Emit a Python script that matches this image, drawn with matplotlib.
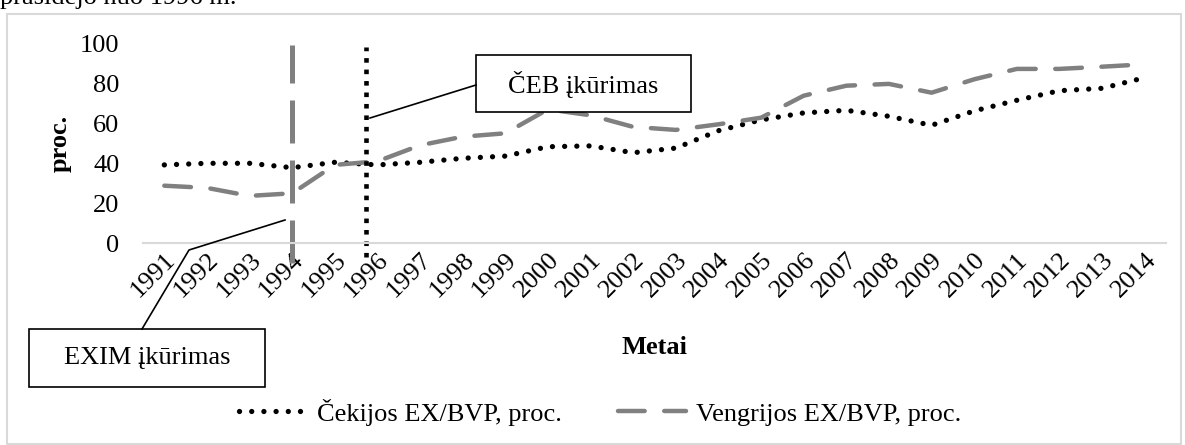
import numpy as np
import matplotlib.pyplot as plt
from matplotlib.patches import Rectangle

plt.rcParams['font.family'] = ['Liberation Serif', 'DejaVu Serif']

years = [str(y) for y in range(1991, 2015)]
czech = [39.2, 40.0, 40.0, 37.8, 40.5, 39.2, 40.5, 42.5, 43.6, 48.3, 48.7, 45.3,
         47.6, 56.3, 61.7, 65.2, 66.5, 63.5, 59.0, 66.2, 71.5, 76.3, 77.5, 82.8]
hungary = [28.8, 27.7, 23.7, 25.0, 39.2, 41.0, 49.0, 53.3, 55.0, 67.0, 64.0, 58.2,
           56.7, 59.5, 62.8, 73.8, 78.8, 79.7, 75.3, 82.0, 87.2, 87.2, 88.3, 89.5]
yticks = [0, 20, 40, 60, 80, 100]
lbl_czech = 'Čekijos EX/BVP, proc.'
lbl_hungary = 'Vengrijos EX/BVP, proc.'
note_ceb = 'ČEB įkūrimas'
note_exim = 'EXIM įkūrimas'
top_text = 'prasidėjo nuo 1996 m.'

W, H = 1185, 445
fs = 19
fig = plt.figure(figsize=(W / 100, H / 100), dpi=100)
ax = fig.add_axes([143 / W, 1 - 243.3 / H, (1166 - 143) / W, 200 / H])

x = np.arange(len(years))
ax.plot(x, czech, color='black', lw=3.8, ls=(0, (0.01, 2.3)),
        dash_capstyle='round', label=lbl_czech)
ax.plot(x, hungary, color='#808080', lw=3.2, ls=(0, (6.0, 4.4)),
        dash_capstyle='round', label=lbl_hungary)

# event markers
ax.plot([3, 3], [-10, 99], color='#808080', lw=3.6, ls=(0, (8.6, 3.4)),
        clip_on=False)
ax.plot([4.72, 4.72], [-7, 98], color='black', lw=3.3, ls=(0, (1, 1.5)),
        clip_on=False)

ax.set_xlim(-0.5, len(years) - 0.5)
ax.set_ylim(0, 100)
ax.set_yticks(yticks)
ax.set_xticks(x)
ax.set_xticklabels(years, rotation=45, ha='right', va='top',
                   rotation_mode='anchor', fontsize=fs)
ax.tick_params(axis='x', length=0, pad=4)
ax.tick_params(axis='y', length=0, pad=17, labelsize=fs)
for s in ['top', 'right', 'left']:
    ax.spines[s].set_visible(False)
ax.spines['bottom'].set_color('#d9d9d9')
ax.spines['bottom'].set_linewidth(1.5)
ax.set_ylabel('proc.', fontsize=fs, fontweight='bold', labelpad=6)

# overlay in pixel coordinates
ov = fig.add_axes([0, 0, 1, 1])
ov.set_xlim(0, W)
ov.set_ylim(H, 0)
ov.axis('off')
ov.add_patch(Rectangle((7, 14), 1174, 430, fill=False, ec='#d9d9d9', lw=1.5))
ov.text(0, 4, top_text, fontsize=fs, ha='left', va='baseline')
ov.text(655, 347, 'Metai', fontsize=fs, fontweight='bold', ha='center', va='center')

ov.plot([476, 370], [85, 118], color='black', lw=1.2)
ov.add_patch(Rectangle((476, 55), 215, 57, fc='white', ec='black', lw=1.2))
ov.text(583.5, 84, note_ceb, fontsize=fs, ha='center', va='center')

ov.plot([142, 189, 285], [329, 250, 220], color='black', lw=1.2)
ov.add_patch(Rectangle((29, 329), 236, 58, fc='white', ec='black', lw=1.2))
ov.text(147, 358, note_exim, fontsize=fs, ha='center', va='center')

fig.legend(loc='center', bbox_to_anchor=(600 / W, 1 - 412 / H), ncol=2,
           frameon=False, fontsize=fs, handlelength=2.6, handletextpad=0.38,
           columnspacing=2.1)

fig.savefig('out.png', dpi=100)
